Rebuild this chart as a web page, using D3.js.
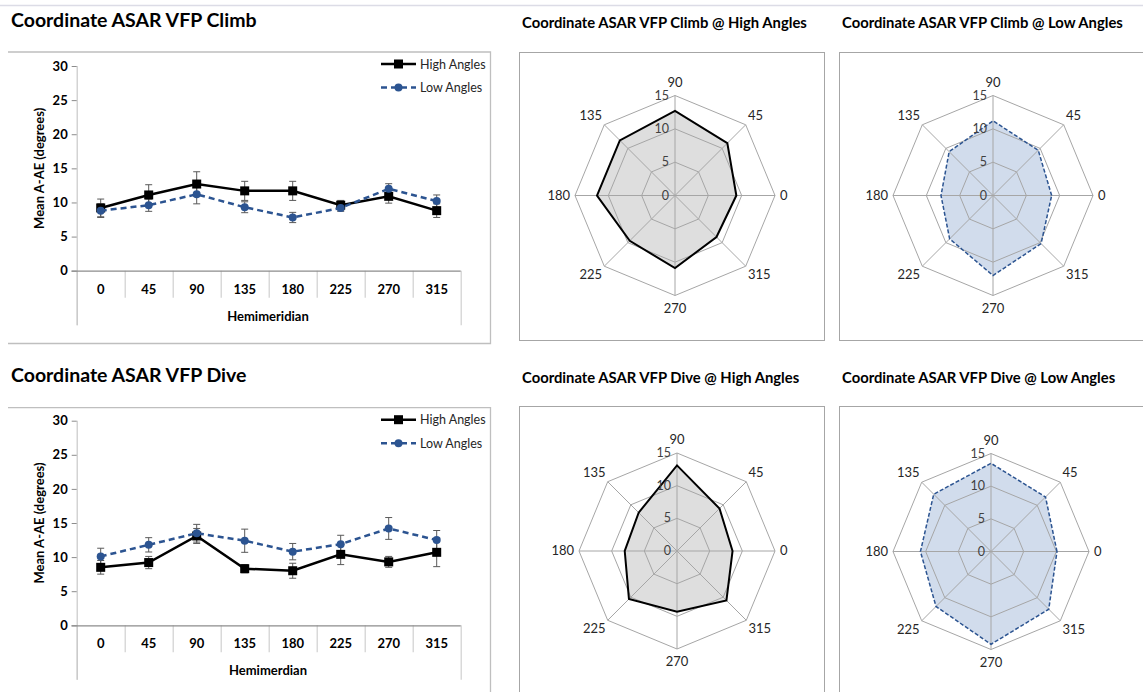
<!DOCTYPE html>
<html>
<head>
<meta charset="utf-8">
<script src="https://cdn.jsdelivr.net/npm/d3@7"></script>
<style>
  body { margin: 0; background: #fff; }
  svg { display: block; font-family: Lato, "Open Sans", sans-serif; }
</style>
</head>
<body>
<svg id="chart" width="1143" height="692"></svg>
<script>
// hemimeridians (categories)
var hemis = [0, 45, 90, 135, 180, 225, 270, 315];
var yTicks = [0, 5, 10, 15, 20, 25, 30];
var ringTicks = [0, 5, 10, 15];

// climb
var climbHigh    = [9.2, 11.1, 12.7, 11.7, 11.7, 9.6, 10.9, 8.8];
var climbHighErr = [1.3, 1.5, 1.8, 1.4, 1.4, 0.7, 1.0, 1.0];
var climbLow     = [8.8, 9.6, 11.2, 9.3, 7.8, 9.2, 12.0, 10.2];
var climbLowErr  = [1.0, 0.9, 1.4, 0.8, 0.75, 0.5, 0.75, 0.9];

// dive
var diveHigh    = [8.5, 9.2, 13.1, 8.3, 8.0, 10.4, 9.3, 10.7];
var diveHighErr = [1.0, 0.9, 1.1, 0.6, 1.1, 1.5, 0.8, 2.1];
var diveLow     = [10.1, 11.8, 13.5, 12.4, 10.8, 11.9, 14.2, 12.5];
var diveLowErr  = [1.2, 1.05, 1.3, 1.7, 1.2, 1.3, 1.6, 1.4];

var seriesNames = ["High Angles", "Low Angles"];

var blue = "#2c5491";
var svg = d3.select("#chart");

svg.append("rect").attr("width", 1143).attr("height", 692).attr("fill", "#fff");
svg.append("line").attr("x1", 0).attr("x2", 1143).attr("y1", 5.5).attr("y2", 5.5)
    .attr("stroke", "#dcdce6").attr("stroke-width", 1.5);

function drawLineChart(cfg) {
    var g = svg.append("g");

    g.append("text").attr("x", 11).attr("y", cfg.titleY)
        .attr("font-size", 19.5).attr("font-weight", "bold").attr("fill", "#000")
        .text(cfg.title);

    // frame (no left edge)
    g.append("path")
        .attr("d", "M8," + cfg.frameTop + "H490.5V" + cfg.frameBottom + (cfg.frameBottom < 692 ? "H8" : ""))
        .attr("fill", "none").attr("stroke", "#bfbfbf").attr("stroke-width", 1.3);

    var x = d3.scaleBand().domain(hemis).range([76.7, 460.7]);
    var y = d3.scaleLinear().domain([0, 30]).range([cfg.y0, cfg.y30]);

    // category dividers
    var bounds = hemis.map(function(h) { return x(h); }).concat([x.range()[1]]);
    g.selectAll(".div").data(bounds).enter().append("line")
        .attr("x1", function(d) { return d + 0.5; }).attr("x2", function(d) { return d + 0.5; })
        .attr("y1", cfg.y0)
        .attr("y2", function(d, i) { return (i === 0 || i === bounds.length - 1) ? cfg.y0 + 54.5 : cfg.y0 + 27; })
        .attr("stroke", "#d0d0d0").attr("stroke-width", 1.2);

    // y axis
    var yAxis = g.append("g").attr("transform", "translate(76.7,0)")
        .call(d3.axisLeft(y).tickValues(yTicks).tickSize(5).tickPadding(4));
    yAxis.select(".domain").attr("stroke", "#c8c8c8").attr("stroke-width", 1.2)
        .attr("d", "M0.5," + (cfg.y30) + "V" + (cfg.y0 + 54.5));
    yAxis.selectAll(".tick line").attr("stroke", "#8c8c8c");
    yAxis.selectAll(".tick text").attr("font-size", 13).attr("font-weight", "bold")
        .attr("fill", "#000").attr("font-family", "Lato, sans-serif");

    // x axis baseline
    g.append("line").attr("x1", 71.5).attr("x2", 460.7).attr("y1", cfg.y0 + 0.5).attr("y2", cfg.y0 + 0.5)
        .attr("stroke", "#8c8c8c").attr("stroke-width", 1.2);

    g.selectAll(".xl").data(hemis).enter().append("text")
        .attr("x", function(d) { return x(d) + x.bandwidth() / 2; })
        .attr("y", cfg.y0 + 23)
        .attr("text-anchor", "middle").attr("font-size", 13).attr("font-weight", "bold")
        .text(function(d) { return d; });

    g.append("text").attr("x", 268).attr("y", cfg.y0 + 50)
        .attr("text-anchor", "middle").attr("font-size", 13).attr("font-weight", "bold")
        .text(cfg.xTitle);

    g.append("text")
        .attr("transform", "translate(44," + ((cfg.y0 + cfg.y30) / 2) + ") rotate(-90)")
        .attr("text-anchor", "middle").attr("font-size", 13).attr("font-weight", "bold")
        .text("Mean A-AE (degrees)");

    var series = [
        { vals: cfg.high, err: cfg.highErr, color: "#000", dash: null, marker: "square" },
        { vals: cfg.low, err: cfg.lowErr, color: blue, dash: "6,4", marker: "circle" }
    ];
    var cx = function(i) { return x(hemis[i]) + x.bandwidth() / 2; };

    // error bars
    series.forEach(function(s) {
        var eb = g.append("g").attr("stroke", "#595959").attr("stroke-width", 1);
        s.vals.forEach(function(v, i) {
            var top = y(v + s.err[i]), bot = y(v - s.err[i]);
            eb.append("line").attr("x1", cx(i)).attr("x2", cx(i)).attr("y1", top).attr("y2", bot);
            eb.append("line").attr("x1", cx(i) - 3.5).attr("x2", cx(i) + 3.5).attr("y1", top).attr("y2", top);
            eb.append("line").attr("x1", cx(i) - 3.5).attr("x2", cx(i) + 3.5).attr("y1", bot).attr("y2", bot);
        });
    });

    var line = d3.line().x(function(d, i) { return cx(i); }).y(function(d) { return y(d); });
    series.forEach(function(s) {
        g.append("path").datum(s.vals).attr("d", line)
            .attr("fill", "none").attr("stroke", s.color).attr("stroke-width", 2.5)
            .attr("stroke-dasharray", s.dash);
        s.vals.forEach(function(v, i) {
            drawMarker(g, s.marker, cx(i), y(v), s.color);
        });
    });

    // legend
    series.forEach(function(s, k) {
        var ly = cfg.frameTop + 12 + k * 23.5;
        g.append("line").attr("x1", 381).attr("x2", 416).attr("y1", ly).attr("y2", ly)
            .attr("stroke", s.color).attr("stroke-width", 2.5).attr("stroke-dasharray", s.dash);
        drawMarker(g, s.marker, 398.5, ly, s.color);
        g.append("text").attr("x", 420).attr("y", ly + 4.5)
            .attr("font-size", 12.5).attr("fill", "#262626")
            .text(seriesNames[k]);
    });
}

function drawMarker(g, type, px, py, color) {
    if (type === "square") {
        g.append("rect").attr("x", px - 4.5).attr("y", py - 4.5).attr("width", 9).attr("height", 9)
            .attr("fill", color);
    } else {
        g.append("circle").attr("cx", px).attr("cy", py).attr("r", 4).attr("fill", color);
    }
}

function drawRadar(cfg) {
    var g = svg.append("g");

    g.append("text").attr("x", cfg.titleX).attr("y", cfg.titleY)
        .attr("font-size", 14.8).attr("font-weight", "bold").attr("fill", "#000")
        .text(cfg.title);

    g.append("rect").attr("x", cfg.fx + 0.5).attr("y", cfg.fy + 0.5)
        .attr("width", cfg.fw).attr("height", cfg.fh)
        .attr("fill", "#fff").attr("stroke", "#a6a6a6").attr("stroke-width", 1);

    var c = g.append("g").attr("transform", "translate(" + cfg.cx + "," + cfg.cy + ")");
    var r = d3.scaleLinear().domain([0, 15]).range([0, cfg.R]);
    var ang = function(h) { return (90 - h) * Math.PI / 180; };

    var radial = d3.lineRadial()
        .angle(function(d) { return ang(d.h); })
        .radius(function(d) { return r(d.v); })
        .curve(d3.curveLinearClosed);

    var pts = hemis.map(function(h, i) { return { h: h, v: cfg.vals[i] }; });

    // data fill under the grid
    c.append("path").datum(pts).attr("d", radial)
        .attr("fill", cfg.fill).attr("stroke", "none");

    // rings
    ringTicks.slice(1).forEach(function(t) {
        c.append("path").datum(hemis.map(function(h) { return { h: h, v: t }; }))
            .attr("d", radial).attr("fill", "none").attr("stroke", "#a6a6a6").attr("stroke-width", 1);
    });
    // spokes
    hemis.forEach(function(h) {
        c.append("line").attr("x1", 0).attr("y1", 0)
            .attr("x2", r(15) * Math.cos(h * Math.PI / 180))
            .attr("y2", -r(15) * Math.sin(h * Math.PI / 180))
            .attr("stroke", "#a6a6a6").attr("stroke-width", 1);
    });

    // data outline
    c.append("path").datum(pts).attr("d", radial)
        .attr("fill", "none")
        .attr("stroke", cfg.stroke).attr("stroke-width", cfg.dash ? 1.5 : 2)
        .attr("stroke-dasharray", cfg.dash);

    // ring value labels
    ringTicks.forEach(function(t) {
        c.append("text").attr("x", -6).attr("y", -r(t) + 4)
            .attr("text-anchor", "end").attr("font-size", 12.5).attr("fill", "#404040")
            .text(t);
    });

    // spoke labels
    hemis.forEach(function(h) {
        var a = h * Math.PI / 180, rr = r(15) + 13;
        var lx = rr * Math.cos(a), ly = -rr * Math.sin(a);
        var anchor = Math.abs(Math.cos(a)) < 0.1 ? "middle" : (Math.cos(a) > 0 ? "start" : "end");
        if (h === 0) lx = r(15) + 5;
        if (h === 180) lx = -r(15) - 5;
        if (h === 45 || h === 315) lx -= 7;
        if (h === 135 || h === 225) lx += 7;
        c.append("text").attr("x", lx).attr("y", ly + 4)
            .attr("text-anchor", anchor).attr("font-size", 13).attr("fill", "#262626")
            .text(h);
    });
}

drawLineChart({
    title: "Coordinate ASAR VFP Climb", titleY: 27,
    frameTop: 52, frameBottom: 343.5,
    y0: 270.7, y30: 66,
    xTitle: "Hemimeridian",
    high: climbHigh, highErr: climbHighErr, low: climbLow, lowErr: climbLowErr
});
drawLineChart({
    title: "Coordinate ASAR VFP Dive", titleY: 382,
    frameTop: 407.7, frameBottom: 700,
    y0: 625.3, y30: 420.7,
    xTitle: "Hemimerdian",
    high: diveHigh, highErr: diveHighErr, low: diveLow, lowErr: diveLowErr
});

drawRadar({ title: "Coordinate ASAR VFP Climb @ High Angles", titleX: 522, titleY: 28,
    fx: 519, fy: 52, fw: 305, fh: 288, cx: 675, cy: 195.5, R: 100,
    vals: climbHigh, fill: "#dedede", stroke: "#000", dash: null });
drawRadar({ title: "Coordinate ASAR VFP Climb @ Low Angles", titleX: 842, titleY: 28,
    fx: 839, fy: 52, fw: 320, fh: 288, cx: 993, cy: 195.5, R: 100,
    vals: climbLow, fill: "#d1dcec", stroke: blue, dash: "4,2" });
drawRadar({ title: "Coordinate ASAR VFP Dive @ High Angles", titleX: 522, titleY: 383,
    fx: 519, fy: 406, fw: 305, fh: 300, cx: 677, cy: 551, R: 98,
    vals: diveHigh, fill: "#dedede", stroke: "#000", dash: null });
drawRadar({ title: "Coordinate ASAR VFP Dive @ Low Angles", titleX: 842, titleY: 383,
    fx: 839, fy: 406, fw: 320, fh: 300, cx: 991, cy: 551.5, R: 98,
    vals: diveLow, fill: "#d1dcec", stroke: blue, dash: "4,2" });
</script>
</body>
</html>
